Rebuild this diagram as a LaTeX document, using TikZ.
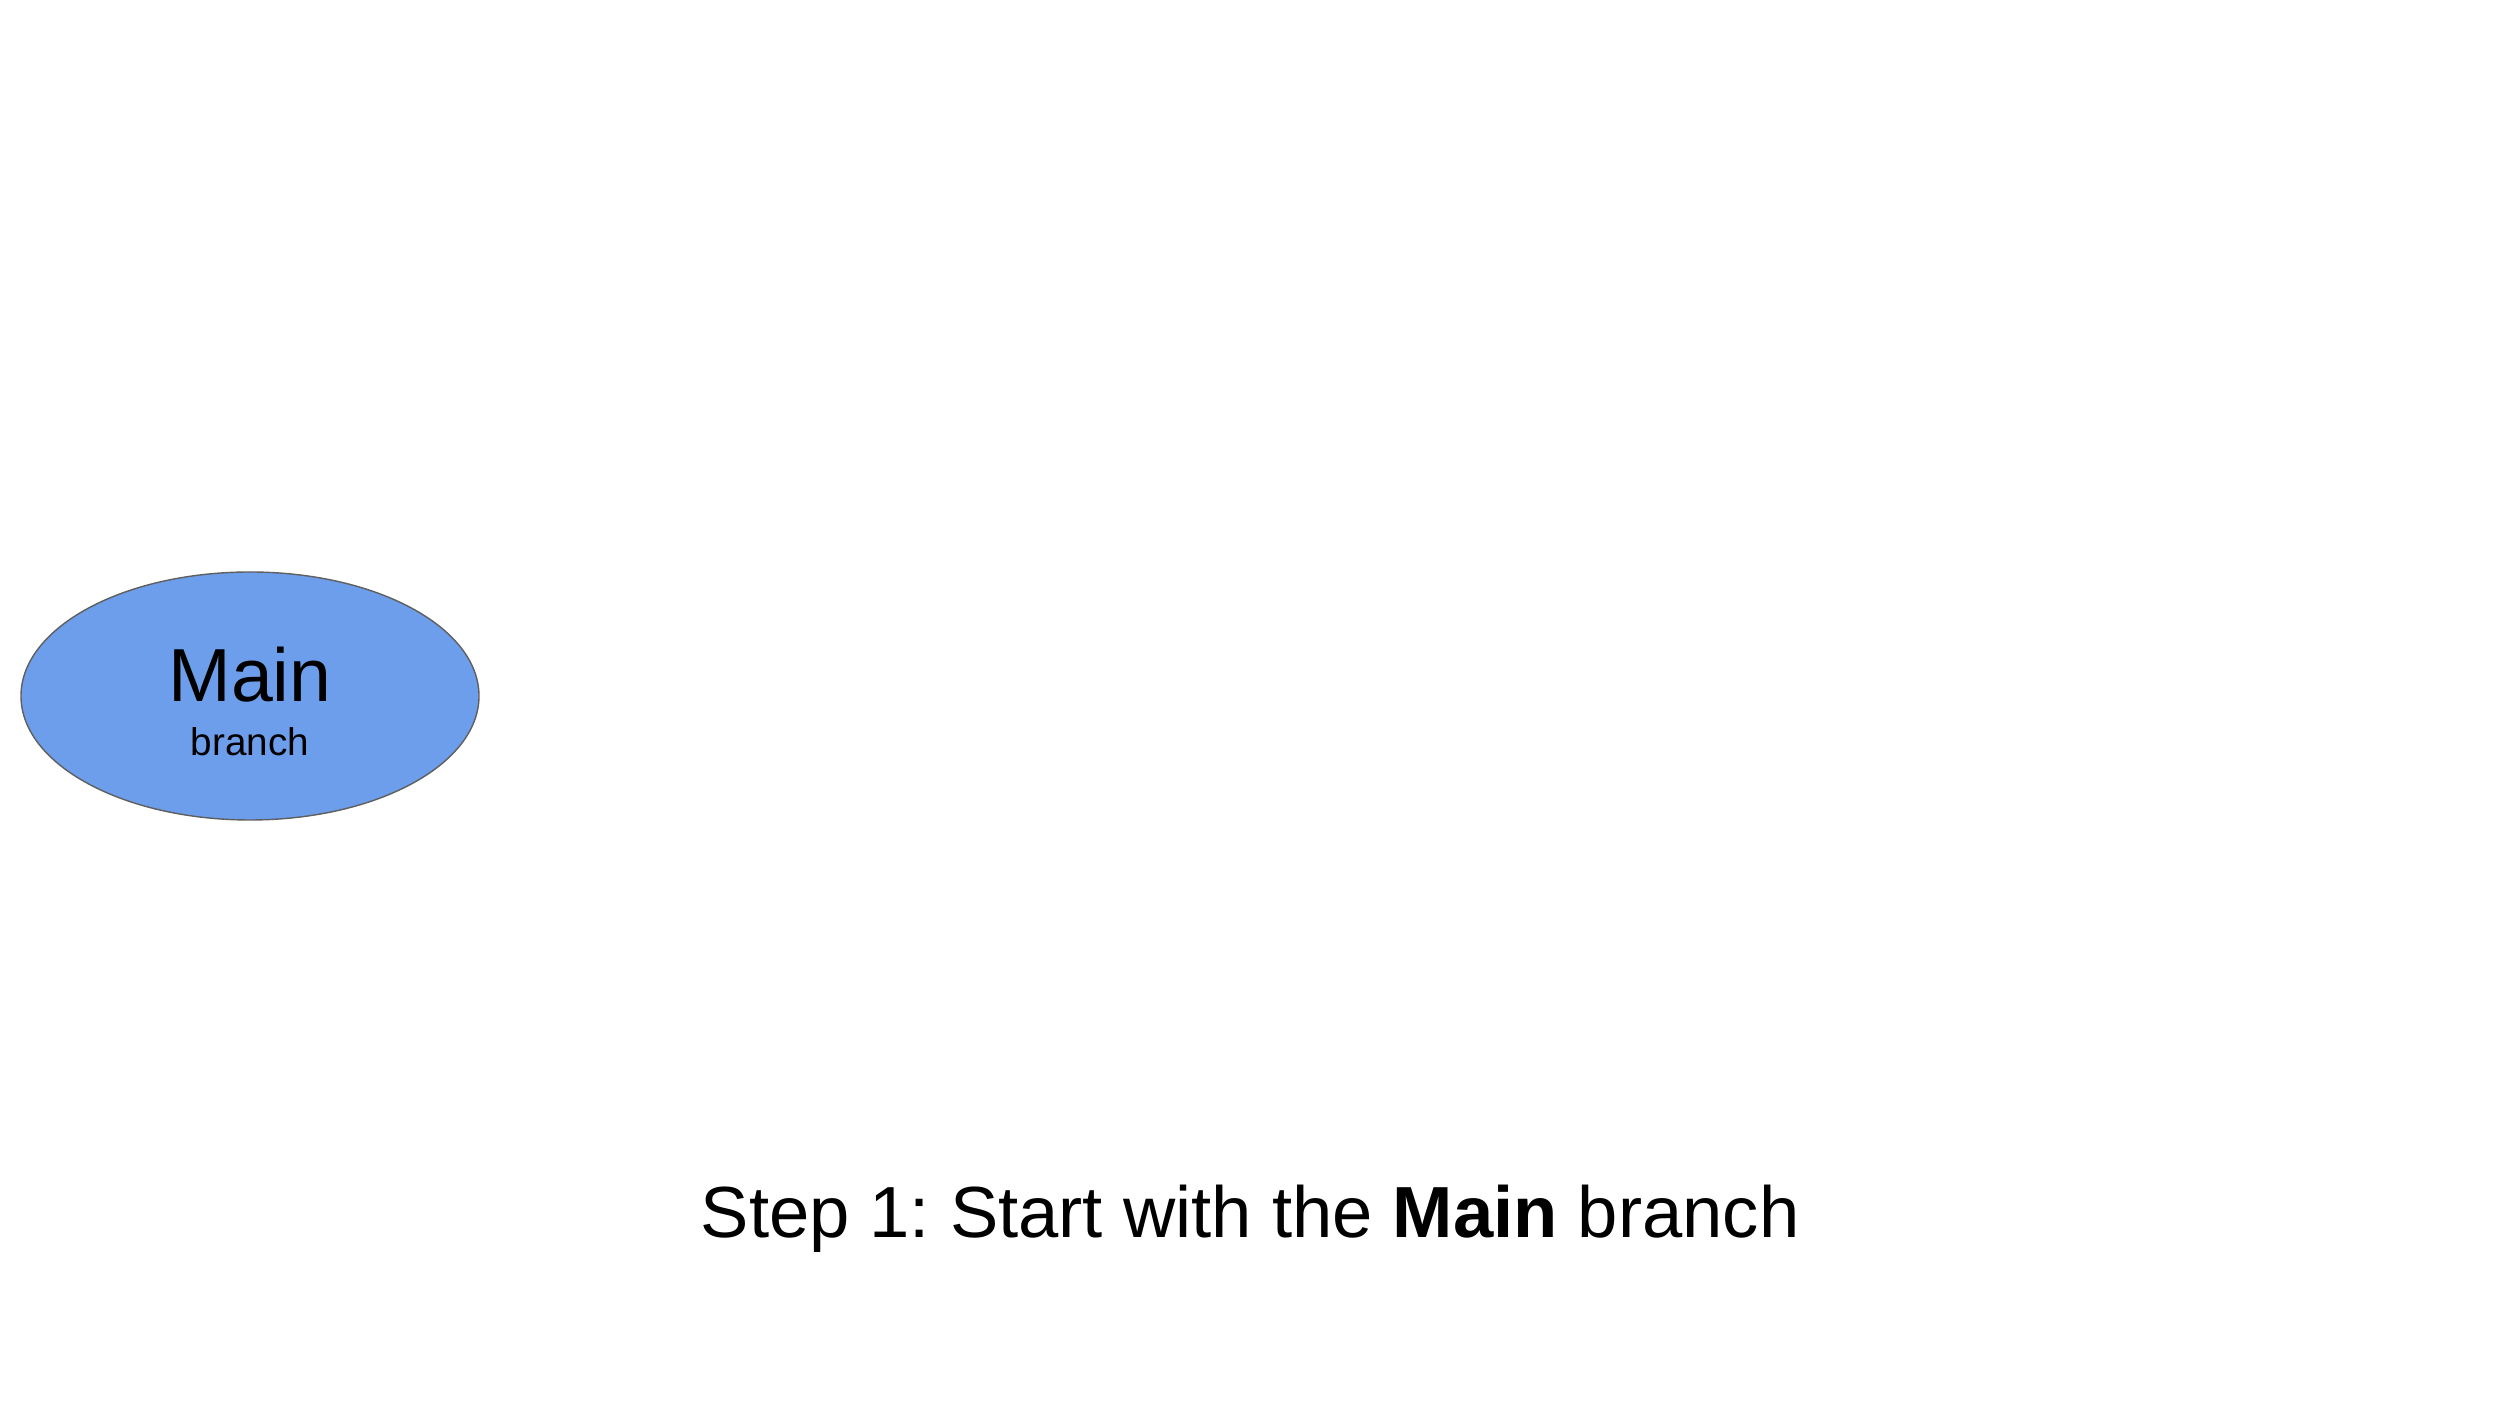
\documentclass[tikz,border=0pt]{standalone}
\usepackage{fontspec}
\setmainfont{Liberation Sans}
\usetikzlibrary{positioning}
\usetikzlibrary{shapes.geometric}
\definecolor{branch-blue}{RGB}{109,158,235}
\definecolor{branch-edge}{RGB}{95,95,95}
\frenchspacing

\begin{document}
\begin{tikzpicture}[>=latex,
 branchnode/.style={ellipse, draw=branch-edge, line width=0.4pt, fill=branch-blue,
   minimum width=4.58cm, minimum height=2.48cm, inner sep=0pt},
 bigtext/.style={anchor=base, inner sep=0pt, font=\fontsize{21.4pt}{24pt}\selectfont},
 captext/.style={anchor=base, inner sep=0pt, font=\fontsize{20.6pt}{24pt}\selectfont},
 smalltext/.style={anchor=base, inner sep=0pt, font=\fontsize{11pt}{13pt}\selectfont}]

\useasboundingbox (0,0) rectangle (25,14.06);

% the main branch
\node [branchnode] (main) at (2.5,7.10) {};
\node [bigtext] (main-name) at (2.5,7.04) {Main};
\node [smalltext] (main-kind) at (2.5,6.50) {branch};

% caption
\node [captext] (caption) at (12.50,1.68) {Step 1: Start with the \textbf{Main} branch};

\end{tikzpicture}
\end{document}
